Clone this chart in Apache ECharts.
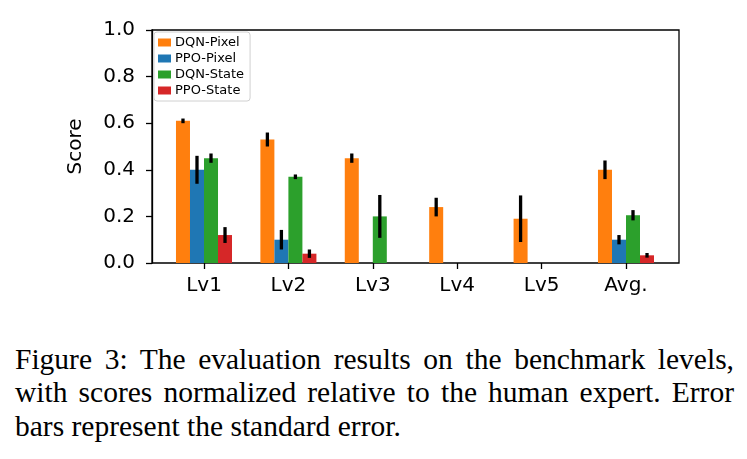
<!DOCTYPE html>
<html>
<head>
<meta charset="utf-8">
<script src="https://cdn.jsdelivr.net/npm/echarts@6/dist/echarts.min.js"></script>
<style>
  body { margin: 0; background: #fff; }
  #chart { position: absolute; left: 0; top: 0; width: 747px; height: 340px; }
  .caption {
    position: absolute; left: 15px; top: 343px; width: 719px;
    font-family: "Liberation Serif", serif; font-size: 29.5px; line-height: 33.3px; color: #000;
  }
  .caption div { text-align: justify; text-align-last: justify; white-space: nowrap; }
  .caption div.last { text-align-last: left; }
</style>
</head>
<body>
<div id="chart"></div>
<div class="caption">
  <div>Figure 3: The evaluation results on the benchmark levels,</div>
  <div>with scores normalized relative to the human expert. Error</div>
  <div class="last">bars represent the standard error.</div>
</div>
<script>
var categories = ['Lv1', 'Lv2', 'Lv3', 'Lv4', 'Lv5', 'Avg.'];
var seriesNames = ['DQN-Pixel', 'PPO-Pixel', 'DQN-State', 'PPO-State'];
var colorList = ['#ff7f0e', '#1f77b4', '#2ca02c', '#d62728'];

var dqnPixel = [0.61, 0.53, 0.45, 0.24, 0.19, 0.40];
var ppoPixel = [0.40, 0.10, 0, 0, 0, 0.10];
var dqnState = [0.45, 0.37, 0.20, 0, 0, 0.205];
var ppoState = [0.12, 0.04, 0, 0, 0, 0.033];

// standard error (null = no error bar drawn)
var dqnPixelErr = [0.01, 0.03, 0.02, 0.04, 0.10, 0.04];
var ppoPixelErr = [0.06, 0.042, null, null, null, 0.02];
var dqnStateErr = [0.02, 0.01, 0.092, null, null, 0.022];
var ppoStateErr = [0.034, 0.018, null, null, null, 0.01];

var yTicks = [0, 0.2, 0.4, 0.6, 0.8, 1.0];

var values = [dqnPixel, ppoPixel, dqnState, ppoState];
var errors = [dqnPixelErr, ppoPixelErr, dqnStateErr, ppoStateErr];

var myChart = echarts.init(document.getElementById('chart'));
var groupFill = 0.664; // share of the category band taken by the 4 bars

var series = [];
seriesNames.forEach(function (name, k) {
    series.push({
        name: name,
        type: 'bar',
        xAxisIndex: 1,
        yAxisIndex: 1,
        barGap: 0,
        barCategoryGap: '33.6%',
        itemStyle: { color: colorList[k] },
        data: values[k]
    });
});
seriesNames.forEach(function (name, k) {
    var d = [];
    values[k].forEach(function (v, i) {
        if (errors[k][i] != null) d.push([i, v, errors[k][i]]);
    });
    series.push({
        name: name + ' err',
        type: 'custom',
        xAxisIndex: 1,
        yAxisIndex: 1,
        z: 5,
        encode: { x: 0, y: 1 },
        data: d,
        renderItem: function (params, api) {
            var idx = api.value(0), v = api.value(1), e = api.value(2);
            var pt = api.coord([idx, v]);
            var band = api.size([1, 0])[0];
            var x = pt[0] + (k - 1.5) * band * groupFill / 4;
            var top = api.coord([idx, v + e])[1];
            var bot = api.coord([idx, v - e])[1];
            return {
                type: 'line',
                shape: { x1: x, y1: top, x2: x, y2: bot },
                style: { stroke: '#000', lineWidth: 3.3 }
            };
        }
    });
});

var option = {
    animation: false,
    backgroundColor: '#fff',
    textStyle: { fontFamily: 'DejaVu Sans' },
    grid: [
        // frame with the y axis (matplotlib-like margins around the groups)
        { left: 152, top: 30, width: 527, height: 233,
          show: true, borderColor: '#000', borderWidth: 1.3, backgroundColor: 'transparent' },
        // data area: 6 categories, 84.4px each
        { left: 161.8, top: 30, width: 506.4, height: 233 }
    ],
    legend: {
        data: seriesNames,
        orient: 'vertical',
        left: 154, top: 32,
        padding: [4, 6, 4, 4],
        itemWidth: 13, itemHeight: 8, itemGap: 3,
        icon: 'rect',
        backgroundColor: 'rgba(255,255,255,0.85)',
        borderColor: '#d0d0d0', borderWidth: 1, borderRadius: 3,
        textStyle: { fontFamily: 'DejaVu Sans', fontSize: 13, lineHeight: 13, color: '#000', padding: [0, 0, 0, -1] }
    },
    xAxis: [
        { type: 'value', gridIndex: 0, show: false, min: 0, max: 1 },
        {
            type: 'category',
            gridIndex: 1,
            data: categories,
            axisLine: { show: false },
            axisTick: { show: true, alignWithLabel: true, length: 6, lineStyle: { color: '#000', width: 1.3 } },
            axisLabel: { color: '#000', fontSize: 20, margin: 13, fontFamily: 'DejaVu Sans' },
            splitLine: { show: false }
        }
    ],
    yAxis: [
        {
            type: 'value',
            gridIndex: 0,
            min: 0, max: 1, interval: 0.2,
            name: 'Score',
            nameLocation: 'middle',
            nameGap: 66,
            nameTextStyle: { color: '#000', fontSize: 20, fontFamily: 'DejaVu Sans' },
            axisLine: { show: true, lineStyle: { color: '#000', width: 1.3 } },
            axisTick: { show: true, length: 6, lineStyle: { color: '#000', width: 1.3 } },
            axisLabel: {
                color: '#000', fontSize: 20, margin: 17, fontFamily: 'DejaVu Sans',
                formatter: function (v) {
                    var t = yTicks.filter(function (y) { return Math.abs(y - v) < 1e-9; })[0];
                    return (t !== undefined ? t : v).toFixed(1);
                }
            },
            splitLine: { show: false }
        },
        { type: 'value', gridIndex: 1, show: false, min: 0, max: 1 }
    ],
    series: series
};

option && myChart.setOption(option);
</script>
</body>
</html>
